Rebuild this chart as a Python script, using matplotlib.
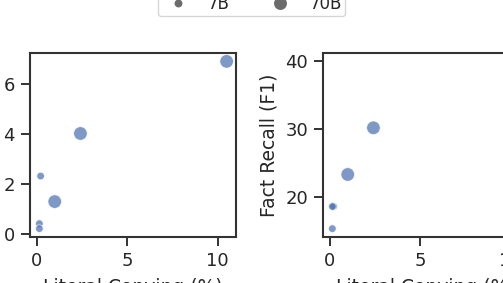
import numpy as np
import matplotlib
matplotlib.use("Agg")
import matplotlib.pyplot as plt
from matplotlib.lines import Line2D

# ==================== Data ==================== #

copying = [10.5, 2.42, 0.22, 1.0, 0.15, 0.15]          # Literal Copying (%)
left_vals = [6.89, 4.01, 2.31, 1.29, 0.41, 0.21]
fact_recall = [39.9, 30.15, 18.6, 23.3, 15.35, 18.6]  # Fact Recall (F1)
model_size = ["70B", "70B", "7B", "70B", "7B", "7B"]
size_labels = ["7B", "70B"]
size_area = {"7B": 30, "70B": 95}

# ==================== Plotting ==================== #

plt.rcParams["font.family"] = "DejaVu Sans"
plt.rcParams["text.color"] = "#262626"
plt.rcParams["axes.labelcolor"] = "#262626"
plt.rcParams["xtick.color"] = "#262626"
plt.rcParams["ytick.color"] = "#262626"

W, H = 503, 283
fig = plt.figure(figsize=(W / 100, H / 100), dpi=100)

def box(x0, y0, x1, y1):
    return [x0 / W, 1 - y1 / H, (x1 - x0) / W, (y1 - y0) / H]

ax1 = fig.add_axes(box(30, 53, 236, 237))
ax2 = fig.add_axes(box(323, 53, 529, 237))

blue = "#4C72B0"
sizes = [size_area[m] for m in model_size]

for ax, yv in [(ax1, left_vals), (ax2, fact_recall)]:
    ax.scatter(copying, yv, s=sizes, color=blue, alpha=0.72,
               edgecolor="white", linewidth=0.6, zorder=3)
    for sp in ax.spines.values():
        sp.set_linewidth(1.5)
        sp.set_color("#333333")
    ax.tick_params(labelsize=13, length=6.8, width=1.4, color="#333333",
                   pad=4)
    ax.set_xticks([0, 5, 10])
    ax.set_xlabel("Literal Copying (%)", fontsize=13.5, labelpad=6)

ax1.set_yticks([0, 2, 4, 6])
ax2.set_yticks([20, 30, 40])
ax2.set_ylabel("Fact Recall (F1)", fontsize=13.5, labelpad=5)

handles = [Line2D([], [], marker="o", linestyle="", color="#6b6b6b",
                  markersize=np.sqrt(size_area[m]) * 0.85, label=m)
           for m in size_labels]
fig.legend(handles=handles, loc="lower center", ncol=2, fontsize=12,
           bbox_to_anchor=(0.5, 1 - 16 / H), borderaxespad=0,
           borderpad=0.2, frameon=True, edgecolor="#cccccc")

fig.savefig("out.png", dpi=100)
